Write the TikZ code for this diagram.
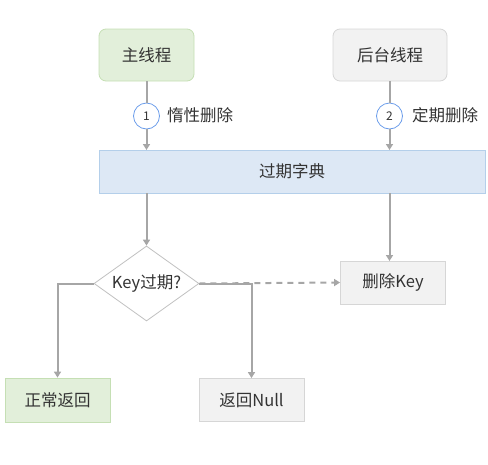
\documentclass[tikz,border=0pt]{standalone}
\usepackage{fontspec}
\setmainfont{Noto Sans CJK SC}
\usetikzlibrary{arrows.meta,shapes.geometric}
\definecolor{gfill}{HTML}{E2EFDA}
\definecolor{gdraw}{HTML}{C5DFB4}
\definecolor{nfill}{HTML}{F2F2F2}
\definecolor{ndraw}{HTML}{D6D6D6}
\definecolor{bfill}{HTML}{DDE8F5}
\definecolor{bdraw}{HTML}{B4CFEA}
\definecolor{cdraw}{HTML}{6D9EEB}
\definecolor{ln}{HTML}{A6A6A6}
\definecolor{txt}{HTML}{333333}
\tikzset{
  base/.style={inner sep=0pt, text=txt, font=\fontsize{16.5}{18}\selectfont, line width=0.8pt},
  roundg/.style={base, rounded corners=7pt, fill=gfill, draw=gdraw, minimum width=95pt, minimum height=52pt},
  roundn/.style={base, rounded corners=7pt, fill=nfill, draw=ndraw, minimum width=114pt, minimum height=52pt},
  rectg/.style={base, fill=gfill, draw=gdraw, minimum width=105pt, minimum height=44pt},
  rectn/.style={base, fill=nfill, draw=ndraw, minimum width=105pt, minimum height=43pt},
  rectb/.style={base, fill=bfill, draw=bdraw, minimum width=386pt, minimum height=43pt},
  dia/.style={base, diamond, fill=white, draw=ndraw!90!black, minimum width=105pt, minimum height=75pt, aspect=1.4},
  num/.style={base, circle, fill=white, draw=cdraw, minimum size=26pt, font=\fontsize{12}{14}\selectfont},
  lbl/.style={text=txt, font=\fontsize{16.5}{18}\selectfont, anchor=west, inner sep=0pt},
  conn/.style={draw=ln, line width=2pt, -{Triangle[length=6pt,width=7pt]}},
  plain/.style={draw=ln, line width=2pt},
}
\begin{document}
\begin{tikzpicture}[x=1pt,y=-1pt]
\useasboundingbox (0,0) rectangle (488,464);
\node[roundg] (main) at (146.5,55) {主线程};
\node[roundn] (bg) at (390,55) {后台线程};
\node[num] (c1) at (146.5,116) {1};
\node[num] (c2) at (389.5,116) {2};
\node[lbl] (l1) at (167,115) {惰性删除};
\node[lbl] (l2) at (412,115) {定期删除};
\node[rectb] (dict) at (292,171.5) {过期字典};
\node[dia] (dec) at (146.5,283.5) {Key过期?};
\node[rectn] (del) at (393,282.5) {删除Key};
\node[rectg] (norm) at (57.5,400) {正常返回};
\node[rectn] (null) at (251.5,400) {返回Null};
\coordinate (d1) at (146.5,150);
\coordinate (d2) at (389.5,150);
\coordinate (d1b) at (146.5,193);
\coordinate (d2b) at (389.5,193);
\coordinate (e2) at (389.5,261);
\draw[plain] (main.south) -- (c1.north);
\draw[conn] (c1.south) -- (d1);
\draw[plain] (bg.south -| c2) -- (c2.north);
\draw[conn] (c2.south) -- (d2);
\draw[conn] (d1b) -- (dec.north);
\draw[conn] (d2b) -- (e2);
\draw[conn, dashed, dash pattern=on 6pt off 5pt] (dec.east) -- (del.west);
\draw[conn] (dec.east) -| (null.north);
\draw[conn] (dec.west) -| (norm.north);
\end{tikzpicture}
\end{document}
